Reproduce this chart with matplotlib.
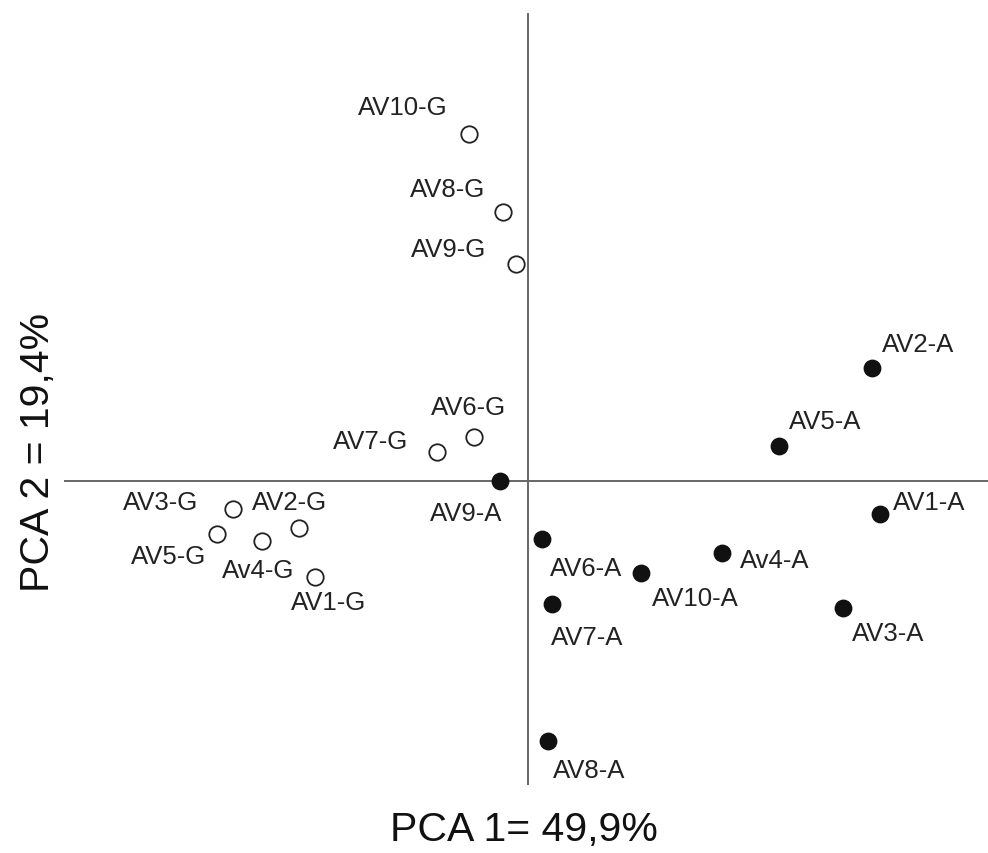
import matplotlib.pyplot as plt

plt.rcParams['font.family'] = ['Liberation Sans', 'DejaVu Sans']

# PCA scores (PC1, PC2) for each sample
names_g = ["AV10-G", "AV8-G", "AV9-G", "AV6-G", "AV7-G",
           "AV3-G", "AV2-G", "AV5-G", "Av4-G", "AV1-G"]
pc1_g = [-0.59, -0.25, -0.12, -0.54, -0.91, -2.95, -2.29, -3.11, -2.66, -2.13]
pc2_g = [3.47, 2.69, 2.17, 0.44, 0.29, -0.28, -0.47, -0.53, -0.60, -0.96]

names_a = ["AV9-A", "AV2-A", "AV5-A", "AV1-A", "AV6-A",
           "Av4-A", "AV10-A", "AV7-A", "AV3-A", "AV8-A"]
pc1_a = [-0.28, 3.44, 2.51, 3.52, 0.14, 1.94, 1.13, 0.24, 3.15, 0.20]
pc2_a = [0.00, 1.13, 0.35, -0.33, -0.58, -0.72, -0.92, -1.23, -1.27, -2.60]

# label offsets in pixels (dx, dy), dy measured downwards
offs_g = [(-66, -27), (-55, -23), (-67, -15), (-5, -30), (-66, -11),
          (-72, -7), (-9, -26), (-48, 22), (-4, 29), (14, 25)]
offs_a = [(-34, 32), (46, -24), (46, -25), (49, -12), (44, 29),
          (53, 7), (54, 25), (35, 33), (45, 25), (41, 29)]

fig = plt.figure(figsize=(9.88, 8.54), dpi=100)
ax = fig.add_axes([0, 0, 1, 1])
ax.set_xlim(-5.28, 4.60)
ax.set_ylim(-3.72, 4.82)
ax.axis('off')

# cross-hair axes through the origin
ax.plot([-4.63, 4.60], [0, 0], color='#666666', lw=1.4, zorder=1)
ax.plot([0, 0], [-3.03, 4.67], color='#666666', lw=1.4, zorder=1)

ax.scatter(pc1_g, pc2_g, s=140, facecolors='white', edgecolors='#222222',
           linewidths=1.3, zorder=3)
ax.scatter(pc1_a, pc2_a, s=140, facecolors='#111111', edgecolors='#111111',
           linewidths=1.0, zorder=3)

for names, xs, ys, offs in [(names_g, pc1_g, pc2_g, offs_g),
                            (names_a, pc1_a, pc2_a, offs_a)]:
    for n, x, y, (dx, dy) in zip(names, xs, ys, offs):
        ax.annotate(n, (x, y), xytext=(dx, -dy), textcoords='offset pixels',
                    ha='center', va='center', fontsize=18.5, color='#222222')

fig.text(524 / 988, 1 - 830 / 854, "PCA 1= 49,9%", ha='center', va='center',
         fontsize=29.5, color='#111111')
fig.text(38 / 988, 1 - 452 / 854, "PCA 2 = 19,4%", ha='center', va='center',
         rotation=90, fontsize=29.5, color='#111111')

fig.savefig('out.png', dpi=100)
